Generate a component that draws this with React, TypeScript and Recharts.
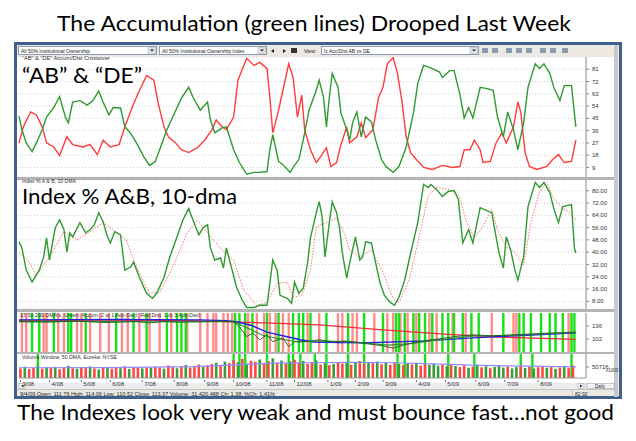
import React from 'react';
import {
  ComposedChart, Line, XAxis, YAxis, CartesianGrid, ReferenceLine,
} from 'recharts';

// x values are trading sessions counted from the first bar on screen (late Feb 2008)
// "AB" accumulation (green) and "DE" distribution (red), top panel
const abLine: [number, number][] = [
  [0, 46.7], [2, 36.6], [5, 27], [9, 20.6], [12, 27], [16, 36.6], [19, 46], [24, 53], [28, 61],
  [32, 46], [34, 41.7], [37, 57], [42, 58], [47, 54.7], [51, 58], [55, 65], [58, 57], [62, 47.5],
  [65, 53], [70, 52.6], [73, 38.8], [77, 34], [81, 27], [86, 17], [90, 10.5], [94, 13.4], [97, 22],
  [102, 36.6], [106, 46], [112, 59.8], [117, 67.8], [120, 60.5], [125, 51], [130, 57], [132, 43.8],
  [135, 34.4], [140, 38], [143, 38.8], [148, 22], [152, 12.6], [157, 4], [162, 5.4], [166, 5.4],
  [171, 6], [173, 22], [175, 33], [179, 13.4], [182, 11], [187, 5.4], [189, 9], [193, 14.8],
  [196, 29], [200, 51], [205, 65.6], [207, 73], [210, 60.5], [212, 38.8], [214, 60.5], [216, 78],
  [220, 67.8], [222, 49], [226, 36.6], [228, 29], [230, 41.7], [233, 49.7], [236, 31.5], [239, 46],
  [243, 42.4], [246, 29], [250, 14.8], [253, 9.7], [258, 5.4], [262, 9.7], [267, 24], [272, 49],
  [275, 70.7], [279, 83.8], [284, 82], [290, 79], [292, 75], [297, 80], [300, 80], [304, 63],
  [307, 45.3], [310, 53], [313, 45.3], [318, 67.8], [322, 67], [327, 65.6], [330, 46], [334, 31.5],
  [337, 49.7], [341, 36.6], [344, 22], [348, 41.7], [351, 67.8], [356, 85], [359, 81.6], [362, 85],
  [366, 78], [369, 67], [373, 58], [376, 69], [381, 69], [384, 38.8],
];

const deLine: [number, number][] = [
  [0, 27], [3, 38.8], [8, 49.7], [12, 47.5], [16, 38.8], [19, 27], [24, 24], [28, 17.7], [33, 31.5],
  [37, 25.7], [44, 24], [49, 25.7], [54, 18.4], [58, 29], [63, 24], [69, 25.7], [73, 38.8], [78, 53],
  [82, 63], [88, 76.5], [93, 73], [96, 56], [100, 38.8], [103, 31.5], [108, 27], [112, 22],
  [117, 19.9], [123, 23.5], [128, 29], [133, 36.6], [136, 43.8], [140, 38.8], [143, 36.6], [148, 46],
  [151, 73], [157, 89], [162, 83.8], [166, 86], [171, 81.6], [173, 60.5], [175, 34.4], [179, 51],
  [182, 65.6], [186, 85], [189, 75], [192, 46], [195, 62], [197, 36.6], [201, 22], [205, 12.6],
  [208, 17], [212, 23.5], [215, 9.7], [219, 12.6], [222, 25.7], [226, 38.8], [228, 27], [233, 31.5],
  [236, 41.7], [239, 30.8], [244, 36.6], [248, 60.5], [251, 67.8], [254, 85], [258, 89.6], [261, 78],
  [264, 58], [267, 31.5], [270, 19.9], [274, 14.8], [279, 9], [285, 7.5], [292, 10.5], [299, 9],
  [304, 9.7], [307, 22], [311, 22], [314, 29], [318, 22], [320, 12.6], [325, 13.4], [329, 27],
  [333, 34.4], [336, 27], [341, 38.8], [344, 57], [346, 49.7], [349, 19.9], [352, 9.7], [357, 7.5],
  [364, 9.7], [368, 14.8], [372, 18.4], [376, 12.6], [381, 13.4], [384, 29],
];

// Index % A&B (green) and its 10-dma (red dotted), middle panel
const idxLine: [number, number][] = [
  [0, 46.7], [2, 42.8], [5, 28.3], [9, 20.5], [11, 23.7], [14, 28.3], [17, 36.9], [19, 49.3],
  [21, 34.9], [25, 55.9], [28, 61], [31, 54.6], [33, 40.1], [35, 52.6], [37, 50], [42, 59.2],
  [46, 52.6], [49, 54.6], [52, 57.9], [55, 65.7], [58, 59.8], [61, 50], [63, 46], [66, 53.3],
  [70, 51.3], [73, 28.3], [77, 30.3], [79, 33.6], [83, 23.7], [88, 13.2], [92, 10], [95, 13.2],
  [100, 23.7], [104, 36.9], [109, 50], [113, 61], [117, 68.4], [120, 61], [124, 51.3], [127, 55.9],
  [130, 57.9], [132, 42.8], [135, 34.9], [139, 36.2], [141, 29.6], [143, 42.8], [147, 28.3],
  [150, 17.2], [154, 8.7], [157, 4], [162, 4], [166, 5.4], [171, 5.4], [173, 19.8], [175, 34.9],
  [178, 28.3], [180, 11.9], [185, 10], [188, 6.7], [190, 20.5], [193, 13.2], [196, 16.5],
  [199, 32.9], [201, 49.3], [205, 65.7], [207, 72.9], [209, 63.1], [211, 36.9], [214, 59.2],
  [216, 72.9], [219, 65.7], [221, 55.9], [223, 39.5], [226, 23.1], [228, 32.9], [230, 41.5],
  [232, 50], [235, 34.9], [237, 36.9], [239, 46.7], [243, 46], [246, 32.9], [249, 19.8], [252, 11.9],
  [256, 7.3], [259, 5.4], [262, 10.6], [266, 21.8], [269, 34.9], [273, 51.3], [275, 59.2],
  [279, 84.1], [282, 82.1], [284, 84.1], [288, 80.8], [292, 76.2], [296, 79.5], [300, 80.2],
  [303, 74.3], [306, 46], [310, 54.6], [313, 46], [318, 69], [321, 67.7], [326, 65.7], [329, 50],
  [331, 39.5], [334, 29.6], [336, 50], [339, 41.5], [342, 28.3], [344, 21.8], [348, 36.9],
  [351, 69.7], [356, 85.4], [359, 82.1], [362, 85.4], [366, 78.8], [369, 67.7], [372, 59.2],
  [375, 69.7], [381, 71], [383, 42.8], [384, 39.5],
];

const idxMa: [number, number][] = [
  [0, 39.5], [6, 34.9], [12, 25], [21, 36.9], [31, 53.3], [40, 48], [49, 53.3], [58, 59.2],
  [67, 53.3], [74, 48], [81, 30.3], [90, 13.2], [97, 13.9], [106, 30.3], [116, 52.6], [123, 61],
  [131, 51.3], [140, 41.5], [148, 34.9], [155, 15.2], [164, 5.4], [171, 7.3], [178, 19.8],
  [185, 20.5], [189, 10.6], [195, 11.9], [201, 28.3], [205, 56.6], [212, 59.2], [219, 62.4],
  [224, 53.3], [228, 41.5], [235, 36.9], [243, 41.5], [251, 27], [258, 10], [262, 7.3], [269, 21.8],
  [276, 50], [282, 76.2], [288, 82.1], [297, 80.8], [304, 76.2], [308, 61], [314, 49.3], [320, 56.6],
  [326, 67.7], [330, 54.6], [336, 43.4], [342, 39.5], [348, 31.6], [353, 59.2], [359, 79.5],
  [364, 85.4], [368, 76.2], [374, 69], [379, 66.4], [384, 61],
];

// price panel: 200 / 50 / 17 dma and close
const dma200: [number, number][] = [
  [0, 150], [60, 151], [120, 150], [148, 147], [170, 144], [207, 139], [251, 126], [296, 114],
  [331, 107], [384, 101],
];
const dma50: [number, number][] = [
  [0, 152], [67, 153], [125, 152], [143, 150], [150, 147], [160, 138], [171, 120], [185, 108],
  [194, 100], [203, 94], [220, 93], [241, 92], [280, 97], [313, 105], [350, 112], [384, 118],
];
const dma17: [number, number][] = [
  [0, 148], [40, 148], [80, 147], [120, 147], [148, 147], [158, 130], [168, 112], [180, 102],
  [192, 95], [210, 97], [230, 94], [255, 86], [270, 90], [290, 100], [313, 110], [341, 112],
  [384, 119],
];
const closeLine: [number, number][] = [
  [0, 147], [20, 146], [40, 149], [60, 145], [80, 148], [90, 144], [100, 148], [110, 146],
  [125, 147], [140, 149], [148, 147], [152, 134], [157, 108], [161, 118], [166, 100], [171, 113],
  [175, 95], [182, 105], [186, 82], [190, 95], [199, 95], [207, 100], [216, 94], [225, 97],
  [233, 93], [251, 84], [258, 78], [266, 87], [274, 94], [285, 100], [300, 108], [313, 113],
  [326, 110], [341, 113], [362, 117], [384, 120],
];

// accumulation (2:1 adv-decl) and distribution (1:3) days
const accumDays = [
  9, 14, 24, 34, 36, 46, 67, 79, 88, 102, 109, 112, 115, 149, 152, 156, 161, 171, 179, 189, 193,
  196, 201, 212, 227, 238, 251, 260, 262, 266, 272, 276, 280, 285, 292, 296, 300, 306, 312, 317,
  334, 345, 348, 353, 360, 366, 370, 375, 381, 383,
];
const distDays = [
  2, 5, 17, 19, 27, 31, 40, 43, 49, 56, 62, 71, 75, 83, 90, 97, 105, 116, 125, 130, 134, 136, 141,
  144, 147, 158, 164, 169, 173, 177, 182, 186, 199, 207, 220, 223, 230, 233, 245, 254, 258, 263,
  268, 274, 283, 288, 299, 308, 326, 341, 343, 379,
];
const volSpikeDays = [
  13, 148, 152, 156, 171, 186, 189, 194, 204, 212, 227, 238, 261, 266, 280, 296, 314, 346, 354, 381,
];

// volume (x1000), one bar every third session starting at session 1
const volumes = [
  44000, 52000, 41000, 47000, 55000, 43000, 49000, 46000, 51000, 40000,
  48000, 56000, 45000, 42000, 50000, 47000, 53000, 44000, 39000, 46000,
  51000, 43000, 48000, 45000, 54000, 41000, 47000, 50000, 44000, 49000,
  46000, 52000, 48000, 43000, 57000, 50000, 45000, 53000, 60000, 48000,
  55000, 62000, 51000, 58000,
  64000, 70000, 58000, 75000, 68000, 82000, 72000, 88000, 66000, 79000,
  74000, 85000, 69000, 77000, 90000, 71000, 80000, 67000, 76000, 84000,
  70000, 78000, 65000, 73000, 81000, 62000, 68000, 59000, 64000, 72000,
  66000, 74000, 61000, 70000, 78000, 64000, 71000, 68000, 75000, 63000,
  69000, 60000, 72000, 65000, 58000, 67000, 62000, 70000, 57000, 64000,
  60000, 66000, 56000, 61000, 54000, 63000,
  55000, 50000, 58000, 47000, 52000, 60000, 49000, 54000, 45000, 51000,
  57000, 48000, 53000, 44000, 50000, 56000, 46000, 52000, 43000, 49000,
  55000, 47000, 51000, 42000, 48000, 53000, 45000, 58000,
];
const volUpDown =
  'rgrrgrgrgrrgrgrrgrgrgrrgrgrrgrgrrgrrgrgrrrgrrgrgrrgrgrrgrrgrgrgrrgrrgrgrgrrgrgrrgrgrgrrgrgrgrrgggrgrgrrgrgrgrgggrggrgrgrrgrgrg';
const volMa: [number, number][] = [
  [0, 47000], [60, 48000], [120, 52000], [150, 60000], [175, 68000], [200, 70000], [230, 72000],
  [260, 70000], [290, 64000], [320, 58000], [350, 54000], [384, 50716],
];

const monthStarts = [1, 21, 43, 63, 85, 107, 128, 148, 171, 190, 213, 232, 251, 274, 294, 315, 335, 358];
const monthLabels = [
  '3/08', '4/08', '5/08', '6/08', '7/08', '8/08', '9/08', '10/08', '11/08', '12/08',
  '1/09', '2/09', '3/09', '4/09', '5/09', '6/09', '7/09', '8/09',
];
const p1Ticks = [9, 18, 27, 36, 45, 54, 63, 72, 81];
const p2Ticks = [8, 16, 24, 32, 40, 48, 56, 64, 72, 80];
const p3Ticks = [102, 136];
const p4Ticks = [50716];

const X_DOMAIN: [number, number] = [0, 391];
const MARGIN = { top: 0, right: 20, bottom: 0, left: 19 };
const UI_FONT = '"Liberation Sans", Arial, sans-serif';
const BIG_FONT = 'Lato, "Open Sans", sans-serif';
const GREEN = '#2f9a2f';
const RED = '#ff3b3b';

const pts = (arr: [number, number][]) => arr.map(([s, v]) => ({ s, v }));

const volData = volumes.map((vol, i) => ({ s: 1 + i * 3, vol, up: volUpDown[i] === 'g' }));

const tickStyle = { fontSize: 6, fill: '#333', fontFamily: UI_FONT };

function yAxisRight(domain: [number, number], ticks: number[], fmt?: (v: number) => string) {
  return (
    <YAxis
      orientation="right"
      width={30}
      domain={domain}
      ticks={ticks}
      interval={0}
      tick={tickStyle}
      tickSize={3}
      tickMargin={3}
      tickFormatter={fmt}
      axisLine={{ stroke: '#8a8a8a' }}
      tickLine={{ stroke: '#8a8a8a' }}
    />
  );
}

const MonthTick = (props: any) => {
  const { x, y, payload } = props;
  const i = monthStarts.indexOf(payload.value);
  return (
    <g>
      <line x1={x} x2={x} y1={y - 2} y2={y} stroke="#666" />
      <text x={x + 2} y={y + 4} fontSize={6} fill="#333" fontFamily={UI_FONT}>{monthLabels[i]}</text>
    </g>
  );
};

function Dropdown({ x, w, label }: { x: number; w: number; label: string }) {
  return (
    <g>
      <rect x={x + 0.5} y={46.5} width={w} height={8} fill="#fff" stroke="#8a9cb5" />
      <text x={x + 3} y={52.5} fontSize={5} fill="#222" fontFamily={UI_FONT}>{label}</text>
      <rect x={x + w - 8} y={47.5} width={7.5} height={6} fill="#e4e4e4" stroke="#aaa" strokeWidth={0.5} />
      <path d={`M${x + w - 6} ${49.5} h4 l-2 2 z`} fill="#222" />
    </g>
  );
}

function Background() {
  return (
    <svg width={636} height={441} style={{ position: 'absolute', left: 0, top: 0 }}>
      <rect x={0} y={0} width={636} height={441} fill="#fff" />
      <rect x={15.5} y={43.5} width={605} height={354} fill="#ece9e2" stroke="#3f5f8f" strokeWidth={3} />
      <Dropdown x={18} w={138} label="All 50% Institutional Ownership" />
      <Dropdown x={159} w={107} label="All 50% Institutional Ownership Index" />
      <path d="M274 49 v4 l-3 -2 z M283 49 v4 l3 -2 z" fill="#222" />
      <rect x={291} y={48} width={6} height={5} fill="#333" />
      <text x={304} y={52.5} fontSize={5} fill="#222" fontFamily={UI_FONT}>View:</text>
      <Dropdown x={321} w={157} label="Ic Acc/Dist AB vs DE" />
      {[482, 492, 506, 516, 526, 540, 550, 562].map((x) => (
        <rect key={x} x={x} y={48} width={6} height={5} fill="#8d9bb0" />
      ))}
      <rect x={17} y={57} width={597} height={326} fill="#fff" />
      <rect x={17} y={177} width={597} height={3} fill="#b4b4b4" />
      <rect x={17} y={309} width={597} height={3} fill="#b4b4b4" />
      <rect x={17} y={352} width={597} height={2} fill="#b4b4b4" />
      <rect x={614} y={45} width={4} height={352} fill="#c8c8c8" />
      <rect x={17} y={383} width={597} height={6} fill="#ececec" />
      <rect x={19} y={383.5} width={6} height={5} fill="#f4f4f4" stroke="#999" strokeWidth={0.5} />
      <path d="M23.5 384.5 v3 l-2.5 -1.5 z" fill="#222" />
      <rect x={578} y={383.5} width={6} height={5} fill="#f4f4f4" stroke="#999" strokeWidth={0.5} />
      <path d="M580 384.5 v3 l2.5 -1.5 z" fill="#222" />
      <rect x={587} y={383.5} width={27} height={5} fill="#f4f4f4" stroke="#999" strokeWidth={0.5} />
      <text x={600} y={387.8} fontSize={4.5} textAnchor="middle" fill="#222" fontFamily={UI_FONT}>Daily</text>
      <rect x={17} y={389} width={601} height={0.8} fill="#b8b8b8" />
      <text x={20} y={395.5} fontSize={5} fill="#222" fontFamily={UI_FONT} textLength={255} lengthAdjust="spacingAndGlyphs">
        9/4/09 Open: 111.76 High: 114.06 Low: 110.52 Close: 113.37 Volume: 31,420,488 Ch: 1.38, %Ch: 1.41%
      </text>
      <rect x={572} y={390} width={0.8} height={7} fill="#b8b8b8" />
      <text x={575} y={395.5} fontSize={5} fill="#222" fontFamily={UI_FONT}>82.92</text>
    </svg>
  );
}

function Foreground() {
  const small = { fontSize: 5, fill: '#333', fontFamily: UI_FONT, lengthAdjust: 'spacingAndGlyphs' as const };
  return (
    <svg width={636} height={441} style={{ position: 'absolute', left: 0, top: 0, pointerEvents: 'none' }}>
      <text x={57} y={31} fontSize={21} fontFamily={BIG_FONT} fill="#000" textLength={514} lengthAdjust="spacingAndGlyphs">
        The Accumulation (green lines) Drooped Last Week
      </text>
      <text x={17} y={420} fontSize={21} fontFamily={BIG_FONT} fill="#000" textLength={597} lengthAdjust="spacingAndGlyphs">
        The Indexes look very weak and must bounce fast…not good
      </text>
      <text x={22} y={83} fontSize={22} fontFamily={BIG_FONT} fill="#000" textLength={120} lengthAdjust="spacingAndGlyphs">
        “AB” &amp; “DE”
      </text>
      <text x={22} y={204} fontSize={21} fontFamily={BIG_FONT} fill="#000" textLength={215} lengthAdjust="spacingAndGlyphs">
        Index % A&amp;B, 10-dma
      </text>
      <text x={22} y={60} {...small} textLength={88}>“AB” &amp; “DE” Accum/Dist Crossover</text>
      <text x={22} y={182.5} fontSize={4.5} fill="#333" fontFamily={UI_FONT} textLength={54} lengthAdjust="spacingAndGlyphs">
        Index % A &amp; B, 10 DMA
      </text>
      <text x={20} y={317} {...small} textLength={180}>
        17,50,200 DMA's, Green: Accum. 2 to 1 Adv-Decl; Red Dist. 1 to 3 Adv-Decl
      </text>
      <text x={22} y={358.5} {...small} textLength={95}>Volume Window, 50 DMA, Eureka: NYSE</text>
      <text x={606} y={372} fontSize={4.5} fill="#333" fontFamily={UI_FONT}>x1000</text>
    </svg>
  );
}

const lineProps = { type: 'linear' as const, dot: false, activeDot: false, isAnimationActive: false };

export default function App() {
  return (
    <div style={{ position: 'absolute', left: 0, top: 0, width: 636, height: 441, background: '#fff', overflow: 'hidden' }}>
      <Background />

      <div style={{ position: 'absolute', left: 0, top: 57 }}>
        <ComposedChart width={636} height={120} margin={MARGIN}>
          <CartesianGrid vertical={false} stroke="#cfcfcf" strokeDasharray="1 2" />
          <XAxis type="number" dataKey="s" domain={X_DOMAIN} hide />
          {yAxisRight([2, 90], p1Ticks)}
          <Line {...lineProps} data={pts(deLine)} dataKey="v" stroke={RED} strokeWidth={1.4} />
          <Line {...lineProps} data={pts(abLine)} dataKey="v" stroke={GREEN} strokeWidth={1.4} />
        </ComposedChart>
      </div>

      <div style={{ position: 'absolute', left: 0, top: 180 }}>
        <ComposedChart width={636} height={129} margin={MARGIN}>
          <CartesianGrid vertical={false} stroke="#cfcfcf" strokeDasharray="1 2" />
          <XAxis type="number" dataKey="s" domain={X_DOMAIN} hide />
          {yAxisRight([3, 87], p2Ticks, (v) => v.toFixed(2))}
          <Line {...lineProps} data={pts(idxMa)} dataKey="v" stroke="#ff7070" strokeWidth={1} strokeDasharray="1.5 1.5" />
          <Line {...lineProps} data={pts(idxLine)} dataKey="v" stroke={GREEN} strokeWidth={1.4} />
        </ComposedChart>
      </div>

      <div style={{ position: 'absolute', left: 0, top: 313 }}>
        <ComposedChart width={636} height={39} margin={MARGIN}>
          <XAxis type="number" dataKey="s" domain={X_DOMAIN} hide />
          {yAxisRight([68, 170], p3Ticks)}
          {distDays.map((d) => (
            <ReferenceLine key={'d' + d} x={d} stroke="#ff8c8c" strokeWidth={2.4} />
          ))}
          {accumDays.map((d) => (
            <ReferenceLine key={'a' + d} x={d} stroke="#16e016" strokeWidth={2.4} />
          ))}
          <Line {...lineProps} data={pts(dma200)} dataKey="v" stroke="#ee3030" strokeWidth={1.2} />
          <Line {...lineProps} data={pts(dma50)} dataKey="v" stroke="#2323e0" strokeWidth={1.4} />
          <Line {...lineProps} data={pts(dma17)} dataKey="v" stroke="#2f8f2f" strokeWidth={1.1} />
          <Line {...lineProps} data={pts(closeLine)} dataKey="v" stroke="#1d5c1d" strokeWidth={0.9} />
        </ComposedChart>
      </div>

      <div style={{ position: 'absolute', left: 0, top: 354 }}>
        <ComposedChart width={636} height={33} margin={MARGIN}>
          <XAxis
            type="number"
            dataKey="s"
            domain={X_DOMAIN}
            ticks={monthStarts}
            interval={0}
            height={9}
            tickSize={2}
            tick={<MonthTick />}
            axisLine={{ stroke: '#9a9a9a' }}
            tickLine={false}
          />
          {yAxisRight([0, 110000], p4Ticks)}
          {volSpikeDays.map((d) => (
            <ReferenceLine key={'v' + d} x={d} stroke="#16e016" strokeWidth={2.4} />
          ))}
          {volData.map((d) => (
            <ReferenceLine
              key={'b' + d.s}
              segment={[{ x: d.s, y: 0 }, { x: d.s, y: d.vol }]}
              stroke={d.up ? '#3a9a3a' : '#ff4545'}
              strokeWidth={2.6}
            />
          ))}
          <Line {...lineProps} data={pts(volMa)} dataKey="v" stroke="#8c8cff" strokeWidth={1.2} />
        </ComposedChart>
      </div>

      <Foreground />
    </div>
  );
}
